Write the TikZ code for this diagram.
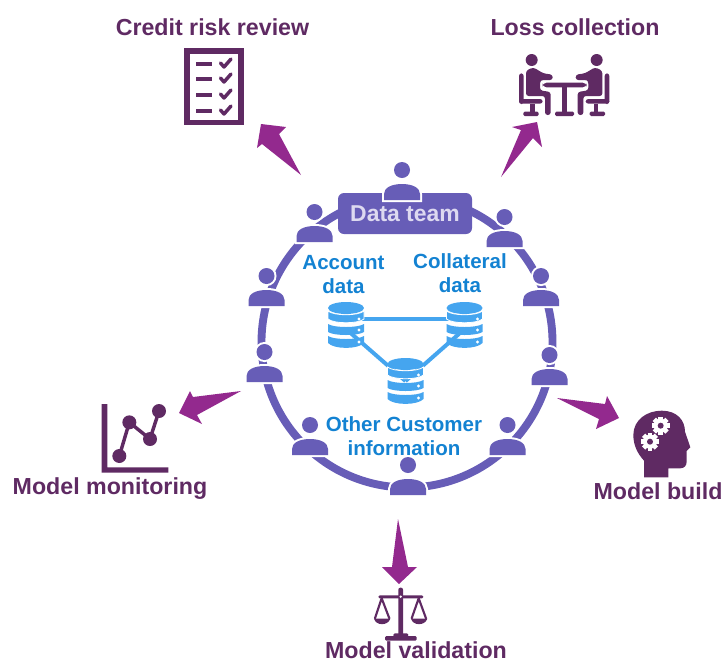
\documentclass[tikz,border=0pt]{standalone}
\usepackage{fontspec}
\setmainfont{Liberation Sans}
\definecolor{plum}{HTML}{5F2A63}
\definecolor{arrowpurple}{HTML}{93298E}
\definecolor{team}{HTML}{675DB7}
\definecolor{dbblue}{HTML}{45A5EF}
\definecolor{labelblue}{HTML}{1382D2}
\definecolor{teamtext}{HTML}{DDD9F0}
\tikzset{
  title/.style={font=\bfseries\fontsize{17.4}{21}\selectfont,text=plum,inner sep=0pt},
  datalabel/.style={font=\bfseries\fontsize{15.4}{18}\selectfont,text=labelblue,align=center,inner sep=0pt},
  bigarrow/.style={fill=arrowpurple,draw=none},
  icon/.style={fill=plum,draw=none},
  iconline/.style={draw=plum,line cap=round,line join=round},
  dblink/.style={draw=dbblue,line width=3pt},
  dbbox/.style={minimum width=27pt,minimum height=34.5pt,inner sep=0pt},
  person/.pic={
    \fill[team,draw=white,line width=3pt] (0,-30) circle (8);
    \fill[team,draw=white,line width=3pt] (-18,0) -- (-18,-6) .. controls (-18,-12.5) and (-10,-16) .. (0,-16) .. controls (10,-16) and (18,-12.5) .. (18,-6) -- (18,0) -- cycle;
    \fill[team] (0,-30) circle (8);
    \fill[team] (-18,0) -- (-18,-6) .. controls (-18,-12.5) and (-10,-16) .. (0,-16) .. controls (10,-16) and (18,-12.5) .. (18,-6) -- (18,0) -- cycle;
  },
  database/.pic={
    \fill[dbblue] (0,-17) ellipse (18 and 6);
    \fill[dbblue,draw=white,line width=.6pt] (-18,-14) .. controls (-12,-9) and (12,-9) .. (18,-14) -- (18,-6) .. controls (12,-1) and (-12,-1) .. (-18,-6) -- cycle;
    \fill[dbblue] (-18,-1) .. controls (-12,3) and (12,3) .. (18,-1) -- (18,7) .. controls (12,11) and (-12,11) .. (-18,7) -- cycle;
    \fill[dbblue] (-18,11) .. controls (-12,15) and (12,15) .. (18,11) -- (18,18) .. controls (12,24.5) and (-12,24.5) .. (-18,18) -- cycle;
    \fill[white] (13,-6) circle (1.6) (13,5) circle (1.6) (13,17) circle (1.6);
  },
  gearicon/.pic={
    \foreach \a in {0,45,...,315}{
      \fill[white,rotate=\a] (-7,-27) rectangle (7,0);
    }
    \fill[white] (0,0) circle (21);
    \fill[plum] (0,0) circle (9);
  }
}
\begin{document}
\begin{tikzpicture}[x=.75pt,y=-.75pt]
\useasboundingbox (0,0) rectangle (724,662);

% ring
\draw[team,line width=5.9pt] (407,342) circle (145.5);

% data team box
\node[fill=team,rounded corners=4.5pt,minimum width=100.5pt,minimum height=30.75pt,inner sep=0pt,
      font=\bfseries\fontsize{17.2}{19}\selectfont,text=teamtext] (box) at (405,213.5) {Data team};

% people around the ring
\pic at (402,200) {person};
\pic at (314.5,242) {person};
\pic at (504.5,247) {person};
\pic at (266.5,306) {person};
\pic at (541,306) {person};
\pic at (264.5,382) {person};
\pic at (549.5,385) {person};
\pic at (310,455) {person};
\pic at (507.5,455) {person};
\pic at (408,495) {person};

% databases
\node[dbbox] (dbA) at (346,325) {};
\node[dbbox] (dbB) at (464.5,325) {};
\node[dbbox] (dbC) at (405.5,381) {};
\draw[dblink] ([yshift=4.5pt]dbA.center) -- ([yshift=4.5pt]dbB.center);
\draw[dblink] ([yshift=-3pt]dbA.center) -- (dbC.center);
\draw[dblink] ([yshift=-3pt]dbB.center) -- (dbC.center);
\pic at (dbA.center) {database};
\pic at (dbB.center) {database};
\pic at (dbC.center) {database};

% labels
\node[datalabel] (account) at (343.5,275) {Account\\data};
\node[datalabel] (collateral) at (460,273) {Collateral\\data};
\node[datalabel] (other) at (404,436) {Other Customer\\information};

\node[title] (credit) at (212.5,27) {Credit risk review};
\node[title] (loss) at (575,27) {Loss collection};
\node[title] (monitoring) at (110,489) {Model monitoring};
\node[title] (build) at (658,491) {Model build};
\node[title] (validation) at (416,650) {Model validation};

% block arrows
\fill[bigarrow] (301,175) -- (279,134) -- (286,127) -- (261,124) -- (257,148) -- (262,144) -- cycle;
\fill[bigarrow] (501,177) -- (521,130) -- (512,127) -- (537,122) -- (542,147) -- (533,138) -- cycle;
\fill[bigarrow] (557,398) -- (605,404) -- (607,396) -- (619,418) -- (596,429) -- (599,419) -- cycle;
\fill[bigarrow] (241,391) -- (193,397) -- (190,391) -- (179,413) -- (202,424) -- (197,415) -- cycle;
\fill[bigarrow] (398,519) -- (408,567) -- (417,567) -- (399,584) -- (382,567) -- (392,567) -- cycle;

% checklist icon
\draw[draw=plum,line width=4.2pt] (187,51) rectangle (241,122.5);
\foreach \y in {64,79,95,111}{
  \draw[iconline,line width=2.3pt,line cap=butt] (196,\y) -- (212,\y);
  \draw[iconline,line width=2.6pt] (220.5,\y-1) -- (224,\y+3) -- (231,\y-5);
}

% loss collection icon (two people at a table)
\begin{scope}[shift={(480,30)},x=.25pt,y=-.25pt]
  \foreach \m in {1,-1}{
    \begin{scope}[shift={({\m==1?0:505},0)},xscale=\m]
      \fill[icon] (155,90) circle (18);
      \fill[icon,rounded corners=2pt] (138,122) -- (160,112) -- (190,130) -- (218,134) -- (218,150) -- (185,150) -- (180,153) -- (180,181) -- (212,186) -- (212,255) -- (195,255) -- (195,198) -- (138,198) -- cycle;
      \fill[icon,rounded corners=2pt] (117,130) rectangle (131,222);
      \fill[icon,rounded corners=2pt] (117,207) rectangle (188,221);
      \fill[icon] (150,221) rectangle (164,246);
      \fill[icon,rounded corners=1pt] (130,245) rectangle (176,258);
    \end{scope}
  }
  \fill[icon,rounded corners=3pt] (188,158) rectangle (320,172);
  \fill[icon] (245,172) rectangle (262,246);
  \fill[icon,rounded corners=1pt] (225,245) rectangle (282,258);
\end{scope}

% model build icon (head with gears)
\begin{scope}[shift={(550,390)},x=.25pt,y=-.25pt]
  \fill[icon] (282,262) -- (282,212) .. controls (262,190) and (250,165) .. (250,135)
    .. controls (250,90) and (290,62) .. (335,62) .. controls (380,62) and (405,90) .. (405,125)
    -- (421,172) -- (410,183) -- (410,215) .. controls (410,228) and (402,235) .. (390,235)
    -- (355,235) -- (355,262) -- cycle;
  \pic at (332,107) {gearicon};
  \pic at (300,155) {gearicon};
\end{scope}

% model monitoring icon
\begin{scope}[shift={(90,380)},x=.25pt,y=-.25pt]
  \fill[icon] (35,72) -- (52,72) -- (52,262) -- (235,262) -- (235,278) -- (35,278) -- cycle;
  \draw[iconline,line width=2.6pt] (88,228) -- (118,127) -- (180,177) -- (207,93);
  \fill[icon] (88,228) circle (21) (118,127) circle (21) (180,177) circle (21) (207,93) circle (21);
\end{scope}

% model validation icon
\begin{scope}[shift={(340,510)},x=.25pt,y=-.25pt]
  \fill[icon,rounded corners=1.5pt] (175,233) rectangle (189,380);
  \fill[icon,rounded corners=1pt] (115,256) rectangle (250,265);
  \fill[white] (182,260) circle (4);
  \fill[icon,rounded corners=1pt] (160,370) rectangle (205,380);
  \fill[icon,rounded corners=1pt] (135,378) rectangle (230,392);
  \draw[iconline,line width=1.6pt] (105,325) -- (125,265) -- (148,325);
  \draw[iconline,line width=1.6pt] (215,325) -- (236,265) -- (258,325);
  \fill[icon] (102,326) .. controls (108,348) and (144,348) .. (151,326) -- cycle;
  \fill[icon] (213,326) .. controls (219,348) and (255,348) .. (262,326) -- cycle;
\end{scope}
\end{tikzpicture}
\end{document}
